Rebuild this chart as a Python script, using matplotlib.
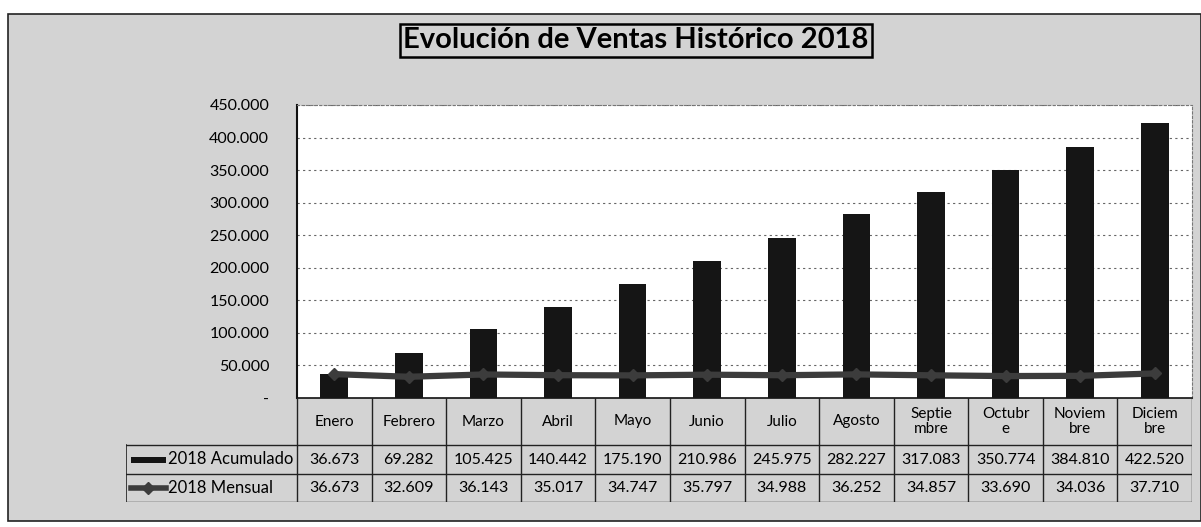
import matplotlib
matplotlib.use("Agg")
import matplotlib.pyplot as plt
from matplotlib.patches import Rectangle
from matplotlib.lines import Line2D

plt.rcParams['font.family'] = ['Lato', 'DejaVu Sans']

months = ["Enero", "Febrero", "Marzo", "Abril", "Mayo", "Junio", "Julio",
          "Agosto", "Septie\nmbre", "Octubr\ne", "Noviem\nbre", "Diciem\nbre"]
acumulado = [36673, 69282, 105425, 140442, 175190, 210986, 245975,
             282227, 317083, 350774, 384810, 422520]
mensual = [36673, 32609, 36143, 35017, 34747, 35797, 34988,
           36252, 34857, 33690, 34036, 37710]
yticks = [0, 50000, 100000, 150000, 200000, 250000, 300000, 350000, 400000, 450000]
title = "Evolución de Ventas Histórico 2018"
series_names = ["2018 Acumulado", "2018 Mensual"]


def fmt(v):
    return "-" if v == 0 else f"{v:,}".replace(",", ".")


W, H = 1201, 527
BG = "#d3d3d3"
fig = plt.figure(figsize=(W / 100, H / 100), dpi=100)
fig.patch.set_facecolor("white")


def px_axes(x0, y0, x1, y1, **kw):
    return fig.add_axes([x0 / W, 1 - y1 / H, (x1 - x0) / W, (y1 - y0) / H], **kw)


# background frame
bgax = px_axes(0, 0, W, H)
bgax.set_xlim(0, W)
bgax.set_ylim(H, 0)
bgax.axis("off")
bgax.add_patch(Rectangle((8, 14), W - 8, 507, facecolor=BG, edgecolor="#222222", lw=1.2))
bgax.text(636, 40, title, ha="center", va="center", fontsize=21, fontweight="bold",
          bbox=dict(boxstyle="square,pad=0.12", facecolor=BG, edgecolor="black", lw=1.8))

# plot area
ax = px_axes(297, 105, 1192, 398)
ax.set_facecolor("white")
x = list(range(len(months)))
ax.bar(x, acumulado, width=0.37, color="#151515", zorder=3)
ax.plot(x, mensual, color="#3c3c3c", lw=4.5, marker="D", markersize=6,
        markerfacecolor="#3c3c3c", zorder=4)
ax.set_xlim(-0.5, len(months) - 0.5)
ax.set_ylim(0, 450000)
ax.set_yticks(yticks)
ax.set_yticklabels([fmt(v) for v in yticks], fontsize=11.5)
ax.set_xticks([])
ax.tick_params(axis="y", length=0, pad=20)
ax.grid(axis="y", color="#666666", lw=0.8, linestyle=(0, (2, 3)), zorder=0)
ax.spines["left"].set_color("#111111")
ax.spines["left"].set_linewidth(1.5)
ax.spines["bottom"].set_color("#111111")
ax.spines["bottom"].set_linewidth(1.2)
for s in ["top", "right"]:
    ax.spines[s].set_color("#777777")
    ax.spines[s].set_linestyle((0, (2, 2)))
    ax.spines[s].set_linewidth(0.8)

# data table below the plot
tab = px_axes(126, 398, 1192, 502)
cw = 895 / len(months)
left = -0.5 - 171 / cw
tab.set_xlim(left, len(months) - 0.5)
tab.set_ylim(104, 0)
tab.axis("off")
lc = "#222222"
for i in range(len(months) + 1):
    tab.plot([i - 0.5, i - 0.5], [0, 104], color=lc, lw=1.0)
tab.plot([left, left], [47, 104], color=lc, lw=1.2)
for yy in [47, 76, 104]:
    tab.plot([left, len(months) - 0.5], [yy, yy], color=lc, lw=1.0)
for i, m in enumerate(months):
    tab.text(i, 23.5, m, ha="center", va="center", fontsize=11, linespacing=1.1)
    tab.text(i, 61.5, fmt(acumulado[i]), ha="center", va="center", fontsize=11.5)
    tab.text(i, 90, fmt(mensual[i]), ha="center", va="center", fontsize=11.5)

# legend keys in the row labels
kx0 = left + 5 / cw
kx1 = left + 40 / cw
tab.add_patch(Rectangle((kx0, 58.5), kx1 - kx0, 6, facecolor="#151515", edgecolor="none"))
tab.add_line(Line2D([kx0, kx1], [90, 90], color="#3c3c3c", lw=4))
tab.plot([(kx0 + kx1) / 2], [90], marker="D", markersize=6, color="#3c3c3c")
tab.text(kx1 + 2 / cw, 61.5, series_names[0], ha="left", va="center", fontsize=12)
tab.text(kx1 + 2 / cw, 90, series_names[1], ha="left", va="center", fontsize=12)

fig.savefig("out.png", dpi=100, facecolor=fig.get_facecolor())
